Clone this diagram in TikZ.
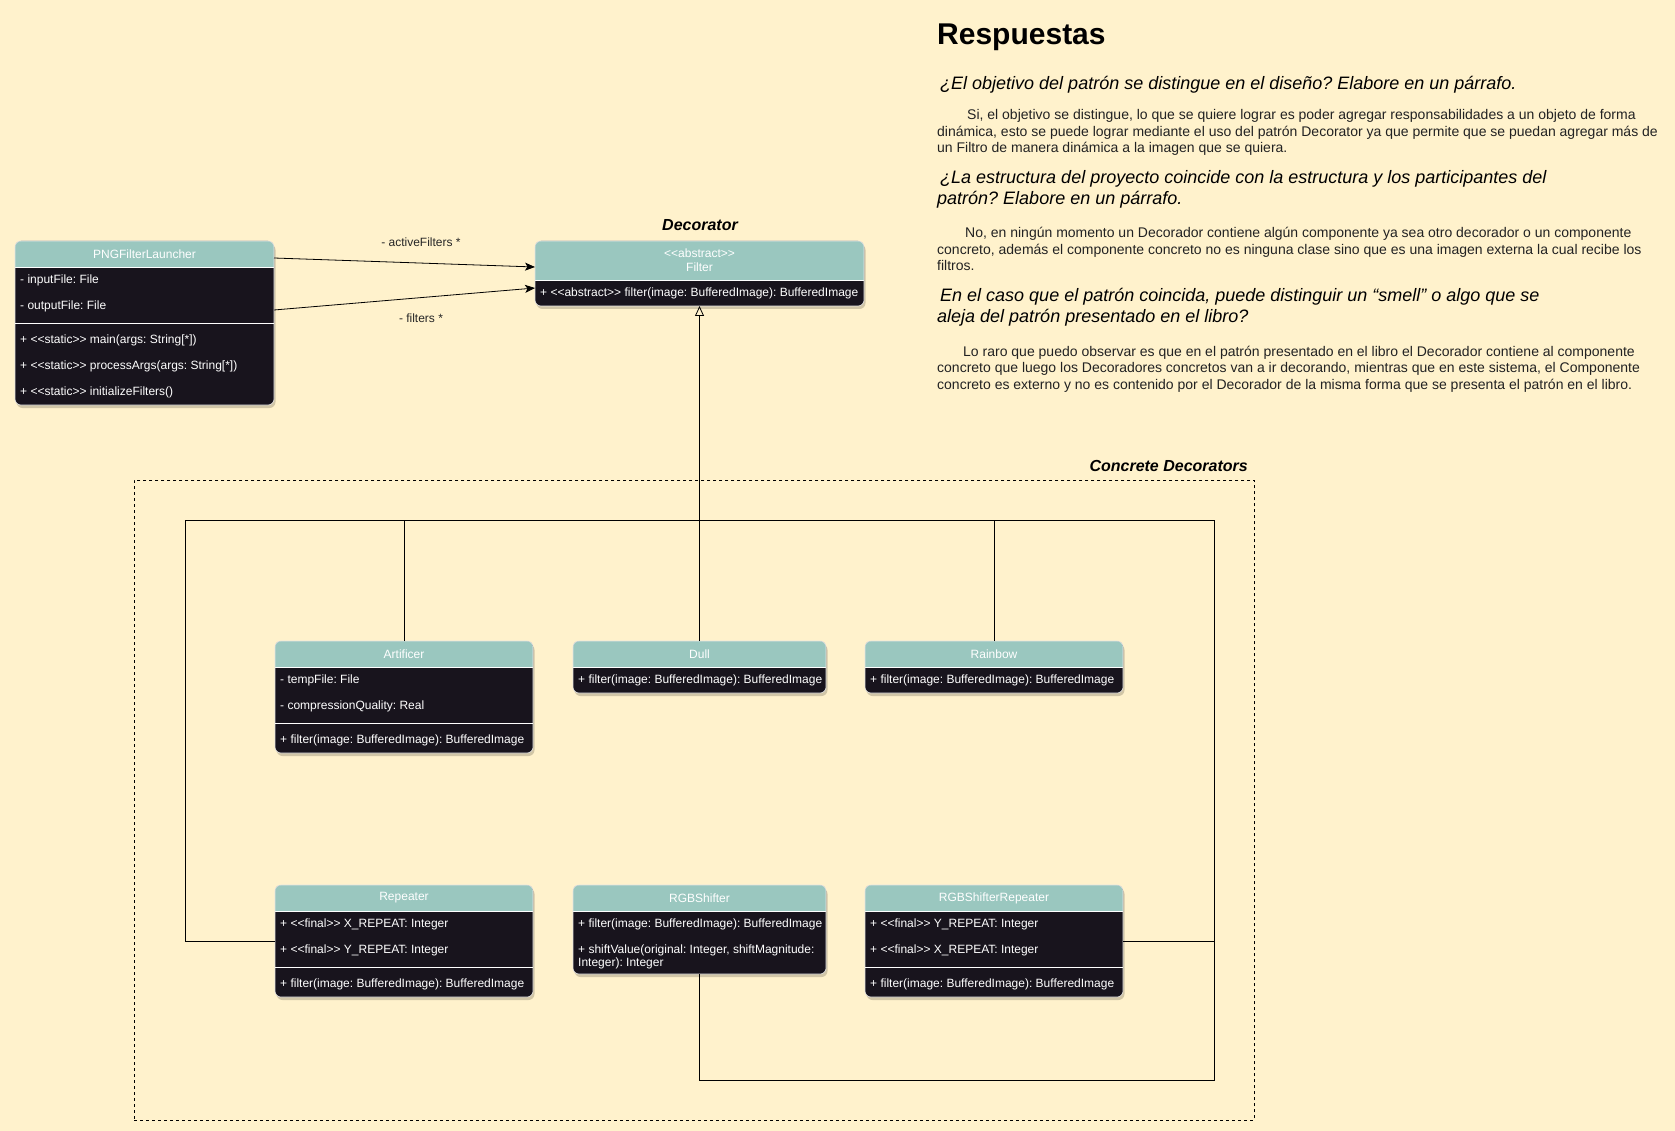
\documentclass[tikz,border=0pt]{standalone}
\usepackage{fontspec}
\setmainfont{Liberation Sans}
\usetikzlibrary{arrows.meta}
\definecolor{bgc}{HTML}{FFF2CC}
\definecolor{headc}{HTML}{9AC7BF}
\definecolor{bodyc}{HTML}{18141D}
\definecolor{parac}{HTML}{222222}
\frenchspacing
\newcommand{\umlcls}[6]{%
  \node[clsframe, minimum width=#4pt, minimum height=#5pt, anchor=north west] (#1) at (#2,#3) {};
  \fill[black, opacity=0.18, rounded corners=6pt] ([xshift=1.5pt,yshift=-3pt]#1.north west) rectangle ([xshift=1.5pt,yshift=-3pt]#1.south east);
  \fill[bodyc, rounded corners=6pt] (#1.north west) rectangle (#1.south east);
  \begin{scope}
    \clip[rounded corners=6pt] (#1.north west) rectangle (#1.south east);
    \fill[headc] (#1.north west) rectangle ([yshift=-#6pt]#1.north east);
  \end{scope}
  \draw[white, line width=0.8pt] ([yshift=-#6pt]#1.north west) -- ([yshift=-#6pt]#1.north east);
  \draw[white!80!gray, line width=0.6pt, rounded corners=6pt] (#1.north west) rectangle (#1.south east);
}
\tikzset{
  clsframe/.style={rectangle, draw=none, inner sep=0pt, outer sep=0pt},
  rowtxt/.style={anchor=west, text=white, inner sep=0pt, font=\fontsize{12}{14}\selectfont},
  headtxt/.style={text=white, inner sep=0pt, font=\fontsize{12}{14}\selectfont},
  divline/.style={draw=white, line width=0.8pt},
  conn/.style={draw=black, line width=0.8pt},
  gen/.style={draw=black, line width=0.8pt, -{Triangle[open, length=10pt, width=9pt, fill=bgc]}},
  assoc/.style={draw=black, line width=0.8pt, -{Stealth[length=10pt, width=8pt, inset=2.5pt]}},
  asslbl/.style={inner sep=0pt, text=black!85, font=\fontsize{12}{14}\selectfont},
  grplbl/.style={inner sep=0pt, font=\fontsize{16}{19}\selectfont\bfseries\itshape},
  grpframe/.style={rectangle, draw=black, line width=0.7pt, dash pattern=on 3pt off 3pt, inner sep=0pt},
  ttl/.style={anchor=base west, inner sep=0pt, font=\fontsize{30}{36}\selectfont\bfseries},
  qline/.style={anchor=base west, inner sep=0pt, font=\fontsize{18}{21}\selectfont\itshape},
  pline/.style={anchor=base west, inner sep=0pt, text=parac, font=\fontsize{14}{16}\selectfont},
}
\begin{document}
\begin{tikzpicture}[x=1pt, y=-1pt]
\useasboundingbox (0,0) rectangle (1675,1131);
\fill[bgc] (0,0) rectangle (1675,1131);

% group frame
\node[grpframe, minimum width=1120pt, minimum height=640pt, anchor=north west] (grp) at (134,480) {};
\node[grplbl, anchor=east] (grplabel) at (1248,466) {Concrete Decorators};
\node[grplbl] (declabel) at (700,225) {Decorator};

% connector junctions
\coordinate (junc) at (699.5,520);
\coordinate (jl) at (185,520);
\coordinate (jr) at (1214,520);
\coordinate (jb) at (1214,1080);

% PNGFilterLauncher
\umlcls{png}{15}{241}{259}{164}{26}
\node[headtxt] (pngh) at ([yshift=-13pt]png.north) {PNGFilterLauncher};
\node[rowtxt] (pngr1) at ([xshift=5pt,yshift=-39pt]png.north west) {- inputFile: File};
\node[rowtxt] (pngr2) at ([xshift=5pt,yshift=-65pt]png.north west) {- outputFile: File};
\draw[divline] ([yshift=-82pt]png.north west) -- ([yshift=-82pt]png.north east);
\node[rowtxt] (pngr3) at ([xshift=5pt,yshift=-99pt]png.north west) {+ <{}<static>{}> main(args: String[*])};
\node[rowtxt] (pngr4) at ([xshift=5pt,yshift=-125pt]png.north west) {+ <{}<static>{}> processArgs(args: String[*])};
\node[rowtxt] (pngr5) at ([xshift=5pt,yshift=-151pt]png.north west) {+ <{}<static>{}> initializeFilters()};

% Filter
\umlcls{filt}{535}{241}{329}{65}{39}
\node[headtxt] (filth1) at ([yshift=-12.5pt]filt.north) {<{}<abstract>{}>};
\node[headtxt] (filth2) at ([yshift=-26.5pt]filt.north) {Filter};
\node[rowtxt] (filtr1) at ([xshift=5pt,yshift=-52pt]filt.north west) {+ <{}<abstract>{}> filter(image: BufferedImage): BufferedImage};

% Artificer
\umlcls{art}{275}{641}{258}{112}{26}
\node[headtxt] (arth) at ([yshift=-13pt]art.north) {Artificer};
\node[rowtxt] (artr1) at ([xshift=5pt,yshift=-39pt]art.north west) {- tempFile: File};
\node[rowtxt] (artr2) at ([xshift=5pt,yshift=-65pt]art.north west) {- compressionQuality: Real};
\draw[divline] ([yshift=-82pt]art.north west) -- ([yshift=-82pt]art.north east);
\node[rowtxt] (artr3) at ([xshift=5pt,yshift=-99pt]art.north west) {+ filter(image: BufferedImage): BufferedImage};

% Dull
\umlcls{dull}{573}{641}{253}{52}{26}
\node[headtxt] (dullh) at ([yshift=-13pt]dull.north) {Dull};
\node[rowtxt] (dullr1) at ([xshift=5pt,yshift=-39pt]dull.north west) {+ filter(image: BufferedImage): BufferedImage};

% Rainbow
\umlcls{rain}{865}{641}{258}{52}{26}
\node[headtxt] (rainh) at ([yshift=-13pt]rain.north) {Rainbow};
\node[rowtxt] (rainr1) at ([xshift=5pt,yshift=-39pt]rain.north west) {+ filter(image: BufferedImage): BufferedImage};

% Repeater
\umlcls{rep}{275}{885}{258}{112}{26}
\node[headtxt] (reph) at ([yshift=-13pt]rep.north) {Repeater};
\node[rowtxt] (repr1) at ([xshift=5pt,yshift=-39pt]rep.north west) {+ <{}<final>{}> X\_REPEAT: Integer};
\node[rowtxt] (repr2) at ([xshift=5pt,yshift=-65pt]rep.north west) {+ <{}<final>{}> Y\_REPEAT: Integer};
\draw[divline] ([yshift=-82pt]rep.north west) -- ([yshift=-82pt]rep.north east);
\node[rowtxt] (repr3) at ([xshift=5pt,yshift=-99pt]rep.north west) {+ filter(image: BufferedImage): BufferedImage};

% RGBShifter
\umlcls{rgbs}{573}{885}{253}{89}{26}
\node[headtxt] (rgbsh) at ([yshift=-13pt]rgbs.north) {RGBShifter};
\node[rowtxt] (rgbsr1) at ([xshift=5pt,yshift=-39pt]rgbs.north west) {+ filter(image: BufferedImage): BufferedImage};
\node[rowtxt, align=left, font=\fontsize{12}{13.7}\selectfont] (rgbsr2) at ([xshift=5pt,yshift=-72pt]rgbs.north west) {+ shiftValue(original: Integer, shiftMagnitude:\\Integer): Integer};

% RGBShifterRepeater
\umlcls{rgbr}{865}{885}{258}{112}{26}
\node[headtxt] (rgbrh) at ([yshift=-13pt]rgbr.north) {RGBShifterRepeater};
\node[rowtxt] (rgbrr1) at ([xshift=5pt,yshift=-39pt]rgbr.north west) {+ <{}<final>{}> Y\_REPEAT: Integer};
\node[rowtxt] (rgbrr2) at ([xshift=5pt,yshift=-65pt]rgbr.north west) {+ <{}<final>{}> X\_REPEAT: Integer};
\draw[divline] ([yshift=-82pt]rgbr.north west) -- ([yshift=-82pt]rgbr.north east);
\node[rowtxt] (rgbrr3) at ([xshift=5pt,yshift=-99pt]rgbr.north west) {+ filter(image: BufferedImage): BufferedImage};

% generalization connectors
\draw[gen] (dull.north) -- (filt.south);
\draw[conn] (art.north) |- (junc);
\draw[conn] (rain.north) |- (junc);
\draw[conn] (rep.west) -| (jl) -- (junc);
\draw[conn] (rgbr.east) -| (jr) -- (junc);
\draw[conn] (rgbs.south) |- (jb) -- (jr);

% associations
\draw[assoc] ([yshift=-17pt]png.north east) -- ([yshift=-26pt]filt.north west);
\draw[assoc] ([yshift=-69pt]png.north east) -- ([yshift=-47pt]filt.north west);
\node[asslbl] (lblactive) at (421,242) {- activeFilters *};
\node[asslbl] (lblfilters) at (421,318) {- filters *};

% Respuestas
\node[ttl] (title) at (937,45) {Respuestas};
\node[qline] (q1) at (940,90) {¿El objetivo del patrón se distingue en el diseño? Elabore en un párrafo.};
\node[pline] (p1a) at (967,120) {Si, el objetivo se distingue, lo que se quiere lograr es poder agregar responsabilidades a un objeto de forma};
\node[pline] (p1b) at (937,136.5) {dinámica, esto se puede lograr mediante el uso del patrón Decorator ya que permite que se puedan agregar más de};
\node[pline] (p1c) at (937,153) {un Filtro de manera dinámica a la imagen que se quiera.};
\node[qline] (q2a) at (940,184) {¿La estructura del proyecto coincide con la estructura y los participantes del};
\node[qline] (q2b) at (937,205) {patrón? Elabore en un párrafo.};
\node[pline] (p2a) at (965,238) {No, en ningún momento un Decorador contiene algún componente ya sea otro decorador o un componente};
\node[pline] (p2b) at (937,254.5) {concreto, además el componente concreto no es ninguna clase sino que es una imagen externa la cual recibe los};
\node[pline] (p2c) at (937,271) {filtros.};
\node[qline] (q3a) at (940,302) {En el caso que el patrón coincida, puede distinguir un “smell” o algo que se};
\node[qline] (q3b) at (937,323) {aleja del patrón presentado en el libro?};
\node[pline] (p3a) at (963,356) {Lo raro que puedo observar es que en el patrón presentado en el libro el Decorador contiene al componente};
\node[pline] (p3b) at (937,372.5) {concreto que luego los Decoradores concretos van a ir decorando, mientras que en este sistema, el Componente};
\node[pline] (p3c) at (937,389) {concreto es externo y no es contenido por el Decorador de la misma forma que se presenta el patrón en el libro.};
\end{tikzpicture}
\end{document}
